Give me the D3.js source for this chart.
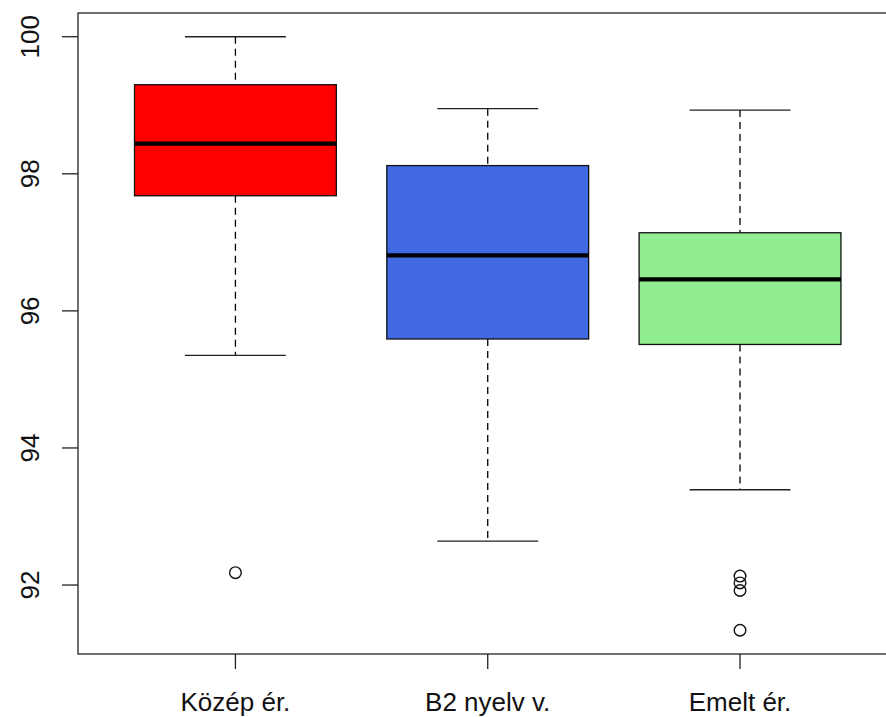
<!DOCTYPE html>
<html lang="hu">
<head>
    <meta charset="UTF-8">
    <title>Boxplot</title>
    <script src="https://d3js.org/d3.v7.min.js"></script>
    <style>
        body { margin: 0; background: #fff; }
        text { font-family: "Liberation Sans", Arial, sans-serif; font-size: 26px; fill: #111; }
    </style>
</head>
<body>
    <script>

        var w = 886;
        var h = 717;

        // values
        var categories = ["Közép ér.", "B2 nyelv v.", "Emelt ér."];
        var colors = ["#FF0000", "#4169E1", "#90EE90"];
        var lowerWhisker = [95.35, 92.64, 93.39];
        var q1 = [97.68, 95.59, 95.51];
        var median = [98.44, 96.81, 96.46];
        var q3 = [99.30, 98.12, 97.14];
        var upperWhisker = [100.0, 98.95, 98.93];
        var outliers = [[92.18], [], [92.13, 92.03, 91.92, 91.34]];
        var yTicks = [92, 94, 96, 98, 100];

        // note: "top" is taken by window.top, so plot edges get their own names
        var plotLeft = 78, plotTop = 13, plotBottom = 654;

        var boxes = categories.map(function (c, i) {
            return {
                name: c, pos: i + 1, color: colors[i],
                lo: lowerWhisker[i], q1: q1[i], med: median[i], q3: q3[i], hi: upperWhisker[i],
                out: outliers[i]
            };
        });

        // R style: 4% padding around the data range
        var allVals = [].concat(lowerWhisker, upperWhisker, outliers.flat());
        var ymin = d3.min(allVals), ymax = d3.max(allVals);
        var pad = (ymax - ymin) * 0.04;
        var y = d3.scaleLinear().domain([ymin - pad, ymax + pad]).range([plotBottom, plotTop]);

        var xpad = 3 * 0.04;
        var unit = 252.3;
        var x = d3.scaleLinear().domain([0.5 - xpad, 3.5 + xpad]).range([plotLeft + 1, plotLeft + 1 + unit * (3 + 2 * xpad)]);
        var boxW = 0.8 * unit;

        var svg = d3.select('body').append('svg').attr('width', w).attr('height', h);

        var g = svg.selectAll('g.box').data(boxes).enter().append('g').attr('class', 'box');

        // dashed whiskers
        g.append('line')
            .attr('x1', function (d) { return x(d.pos); })
            .attr('x2', function (d) { return x(d.pos); })
            .attr('y1', function (d) { return y(d.hi); })
            .attr('y2', function (d) { return y(d.q3); })
            .attr('stroke', '#000').attr('stroke-width', 1.3).attr('stroke-dasharray', '7,5');
        g.append('line')
            .attr('x1', function (d) { return x(d.pos); })
            .attr('x2', function (d) { return x(d.pos); })
            .attr('y1', function (d) { return y(d.q1); })
            .attr('y2', function (d) { return y(d.lo); })
            .attr('stroke', '#000').attr('stroke-width', 1.3).attr('stroke-dasharray', '7,5');

        // staples
        ['hi', 'lo'].forEach(function (k) {
            g.append('line')
                .attr('x1', function (d) { return x(d.pos) - boxW / 4; })
                .attr('x2', function (d) { return x(d.pos) + boxW / 4; })
                .attr('y1', function (d) { return y(d[k]); })
                .attr('y2', function (d) { return y(d[k]); })
                .attr('stroke', '#222').attr('stroke-width', 1.3);
        });

        // boxes
        g.append('rect')
            .attr('x', function (d) { return x(d.pos) - boxW / 2; })
            .attr('y', function (d) { return y(d.q3); })
            .attr('width', boxW)
            .attr('height', function (d) { return y(d.q1) - y(d.q3); })
            .attr('fill', function (d) { return d.color; })
            .attr('stroke', '#111').attr('stroke-width', 1.3);

        // medians
        g.append('line')
            .attr('x1', function (d) { return x(d.pos) - boxW / 2; })
            .attr('x2', function (d) { return x(d.pos) + boxW / 2; })
            .attr('y1', function (d) { return y(d.med); })
            .attr('y2', function (d) { return y(d.med); })
            .attr('stroke', '#000').attr('stroke-width', 4.2);

        // outliers
        g.selectAll('circle').data(function (d) {
            return d.out.map(function (v) { return { pos: d.pos, v: v }; });
        }).enter().append('circle')
            .attr('cx', function (d) { return x(d.pos); })
            .attr('cy', function (d) { return y(d.v); })
            .attr('r', 5.8)
            .attr('fill', 'none').attr('stroke', '#111').attr('stroke-width', 1.4);

        // frame
        svg.append('rect')
            .attr('x', plotLeft).attr('y', plotTop)
            .attr('width', x.range()[1] - plotLeft).attr('height', plotBottom - plotTop)
            .attr('fill', 'none').attr('stroke', '#222').attr('stroke-width', 1.3);

        // y axis
        var ya = svg.append('g');
        ya.selectAll('line').data(yTicks).enter().append('line')
            .attr('x1', plotLeft - 16).attr('x2', plotLeft)
            .attr('y1', function (d) { return y(d); })
            .attr('y2', function (d) { return y(d); })
            .attr('stroke', '#222').attr('stroke-width', 1.3);
        ya.selectAll('text').data(yTicks).enter().append('text')
            .attr('transform', function (d) { return 'translate(39,' + y(d) + ') rotate(-90)'; })
            .attr('text-anchor', 'middle')
            .text(function (d) { return d; });

        // x axis
        var xa = svg.append('g');
        xa.selectAll('line').data(boxes).enter().append('line')
            .attr('x1', function (d) { return x(d.pos); })
            .attr('x2', function (d) { return x(d.pos); })
            .attr('y1', plotBottom).attr('y2', plotBottom + 15)
            .attr('stroke', '#222').attr('stroke-width', 1.3);
        xa.selectAll('text').data(boxes).enter().append('text')
            .attr('x', function (d) { return x(d.pos); })
            .attr('y', 711)
            .attr('text-anchor', 'middle')
            .text(function (d) { return d.name; });

    </script>
</body>
</html>
